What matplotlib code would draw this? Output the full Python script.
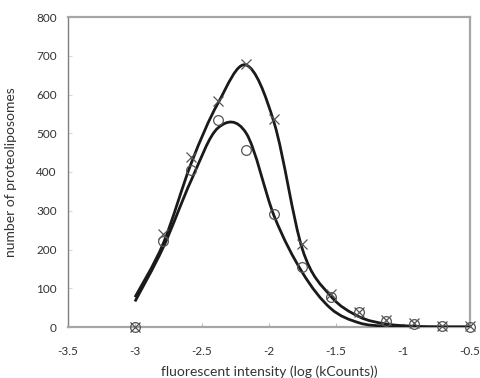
import numpy as np
import matplotlib
matplotlib.use("Agg")
import matplotlib.pyplot as plt
from matplotlib.path import Path
from matplotlib.patches import PathPatch

# bin centres (log kCounts)
x_bins = [-3.0, -2.79, -2.58, -2.38, -2.17, -1.96, -1.75, -1.54, -1.33, -1.13, -0.92, -0.71, -0.5]

# measured counts
cross_counts = [0, 240, 438, 583, 680, 538, 215, 85, 40, 18, 10, 2, 2]
circle_counts = [0, 222, 405, 533, 458, 292, 155, 78, 38, 16, 8, 2, 1]

# fitted curves read at the bin centres
cross_fit = [77, 215, 423, 578, 676, 525, 200, 80, 27, 8, 2, 0, 0]
circle_fit = [66, 205, 379, 514, 500, 285, 140, 48, 11, 2, 0, 0, 0]

xticks = [-3.5, -3, -2.5, -2, -1.5, -1, -0.5]
yticks = [0, 100, 200, 300, 400, 500, 600, 700, 800]


def smooth_path(xs, ys, t=1/6):
    # excel-like smoothed line: catmull-rom converted to cubic bezier
    xs = np.asarray(xs, float)
    ys = np.asarray(ys, float)
    verts = [(xs[0], ys[0])]
    codes = [Path.MOVETO]
    n = len(xs)
    for i in range(n - 1):
        p0 = i - 1 if i > 0 else i
        p3 = i + 2 if i + 2 < n else i + 1
        c1 = (xs[i] + (xs[i + 1] - xs[p0]) * t, max(ys[i] + (ys[i + 1] - ys[p0]) * t, 0))
        c2 = (xs[i + 1] - (xs[p3] - xs[i]) * t, max(ys[i + 1] - (ys[p3] - ys[i]) * t, 0))
        verts += [c1, c2, (xs[i + 1], ys[i + 1])]
        codes += [Path.CURVE4] * 3
    return Path(verts, codes)


plt.rcParams['font.family'] = ['Lato', 'DejaVu Sans']

fig = plt.figure(figsize=(4.81, 3.78), dpi=100)
ax = fig.add_axes([68 / 481, 1 - 327 / 378, (470 - 68) / 481, (327 - 17) / 378])

for fit in (cross_fit, circle_fit):
    ax.add_patch(PathPatch(smooth_path(x_bins, fit), fill=False, color='#1a1a1a', lw=2, zorder=3))

ax.plot(x_bins, cross_counts, ls='none', marker='x', ms=7, mew=0.9, color='#555555', zorder=4, clip_on=False)
ax.plot(x_bins, circle_counts, ls='none', marker='o', ms=7, mew=0.9, mfc='none', mec='#555555', zorder=4, clip_on=False)

ax.set_xlim(-3.5, -0.5)
ax.set_ylim(0, 800)
ax.set_xticks(xticks)
ax.set_xticklabels(['-3.5', '-3', '-2.5', '-2', '-1.5', '-1', '-0.5'])
ax.set_yticks(yticks)

ax.tick_params(axis='x', direction='in', length=3, color='#bfbfbf', pad=14, labelsize=8.5, labelcolor='#333333')
ax.tick_params(axis='y', direction='in', length=3, color='#d9d9d9', pad=8, labelsize=8.5, labelcolor='#333333')

ax.spines['left'].set_color('#7f7f7f')
ax.spines['left'].set_linewidth(1)
for s in ('bottom', 'top', 'right'):
    ax.spines[s].set_color('#a6a6a6')
    ax.spines[s].set_linewidth(1.6)

ax.set_xlabel('fluorescent intensity (log (kCounts))', fontsize=10, color='#333333', labelpad=6)
ax.set_ylabel('number of proteoliposomes', fontsize=10, color='#333333', labelpad=14)

fig.savefig('out.png', dpi=100)
